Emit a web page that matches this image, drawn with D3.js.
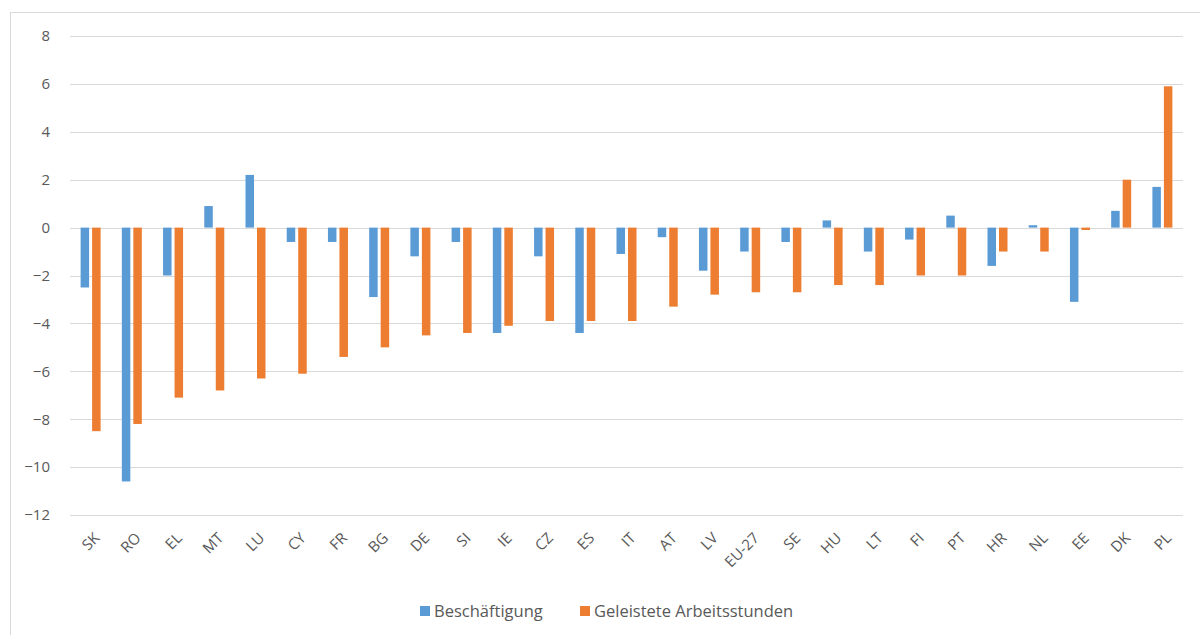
<!DOCTYPE html>
<html>
<head>
<meta charset="utf-8">
<script src="https://cdn.jsdelivr.net/npm/d3@7"></script>
<style>
  html, body { margin: 0; padding: 0; background: #fff; }
  svg { display: block; }
  text { font-family: "Open Sans", Lato, sans-serif; fill: #595959; }
</style>
</head>
<body>
<svg id="chart" width="1200" height="635"></svg>
<script>
// Countries, ordered by the change in hours worked
const countries = ["SK","RO","EL","MT","LU","CY","FR","BG","DE","SI","IE","CZ","ES","IT","AT","LV","EU-27","SE","HU","LT","FI","PT","HR","NL","EE","DK","PL"];
// Change in employment (%)
const beschaeftigung = [-2.5,-10.6,-2.0,0.9,2.2,-0.6,-0.6,-2.9,-1.2,-0.6,-4.4,-1.2,-4.4,-1.1,-0.4,-1.8,-1.0,-0.6,0.3,-1.0,-0.5,0.5,-1.6,0.1,-3.1,0.7,1.7];
// Change in hours actually worked (%)
const arbeitsstunden = [-8.5,-8.2,-7.1,-6.8,-6.3,-6.1,-5.4,-5.0,-4.5,-4.4,-4.1,-3.9,-3.9,-3.9,-3.3,-2.8,-2.7,-2.7,-2.4,-2.4,-2.0,-2.0,-1.0,-1.0,-0.1,2.0,5.9];
const yTicks = [8,6,4,2,0,-2,-4,-6,-8,-10,-12];
const seriesNames = ["Beschäftigung", "Geleistete Arbeitsstunden"];
const seriesColors = ["#5B9BD5", "#ED7D31"];

const svg = d3.select("#chart");
const defs = svg.append("defs");

// outer chart frame
svg.append("rect")
  .attr("x", 10.5).attr("y", 12.5)
  .attr("width", 1210).attr("height", 640)
  .attr("fill", "none").attr("stroke", "#d9d9d9").attr("stroke-width", 1);

const plot = { left: 70, right: 1183, top: 36, bottom: 515 };

const x = d3.scaleBand().domain(countries).range([plot.left, plot.right]).padding(0);
const y = d3.scaleLinear().domain([-12, 8]).range([plot.bottom, plot.top]);

// horizontal gridlines
svg.append("g").selectAll("line").data(yTicks).join("line")
  .attr("x1", plot.left).attr("x2", plot.right)
  .attr("y1", d => Math.round(y(d)) + 0.5).attr("y2", d => Math.round(y(d)) + 0.5)
  .attr("stroke", "#d9d9d9").attr("stroke-width", 1.2);

// y axis labels
const yAxis = d3.axisLeft(y).tickValues(yTicks).tickSize(0).tickPadding(20);
const ya = svg.append("g").attr("transform", `translate(${plot.left},0)`).call(yAxis);
ya.select(".domain").remove();
ya.selectAll("text").attr("font-size", 15).attr("fill", "#595959")
  .attr("font-family", "'Open Sans', Lato, sans-serif");

// bars
const barW = 8.5, gap = 3;
const series = [beschaeftigung, arbeitsstunden];
series.forEach((vals, si) => {
  svg.append("g").selectAll("rect").data(countries).join("rect")
    .attr("x", (c) => x(c) + x.bandwidth() / 2 + (si === 0 ? -gap / 2 - barW : gap / 2))
    .attr("y", (c, i) => y(Math.max(0, vals[i])))
    .attr("width", barW)
    .attr("height", (c, i) => Math.abs(y(vals[i]) - y(0)))
    .attr("fill", seriesColors[si]);
});

// x axis category labels, laid along 45-degree baselines ending at each tick
const labelLen = 80;
const anchorPt = c => [x(c) + x.bandwidth() / 2 + 10, plot.bottom + 24];
defs.selectAll("path").data(countries).join("path")
  .attr("id", (c, i) => `xlab-${i}`)
  .attr("d", c => {
    const [ex, ey] = anchorPt(c);
    const d = labelLen / Math.SQRT2;
    return `M${ex - d},${ey + d}L${ex},${ey}`;
  });
svg.append("g").selectAll("text").data(countries).join("text")
  .attr("font-size", 15)
  .attr("fill", "#595959")
  .append("textPath")
  .attr("href", (c, i) => `#xlab-${i}`)
  .attr("startOffset", "100%")
  .attr("text-anchor", "end")
  .text(c => c);

// legend
const legend = svg.append("g").attr("transform", "translate(420,611)");
const items = [{ x: 0 }, { x: 160 }];
items.forEach((it, i) => {
  const g = legend.append("g").attr("transform", `translate(${it.x},0)`);
  g.append("rect").attr("x", 0).attr("y", -5).attr("width", 10).attr("height", 10).attr("fill", seriesColors[i]);
  g.append("text").attr("x", 14).attr("y", 0).attr("dy", "0.35em")
    .attr("font-size", 16.5).text(seriesNames[i]);
});
</script>
</body>
</html>
